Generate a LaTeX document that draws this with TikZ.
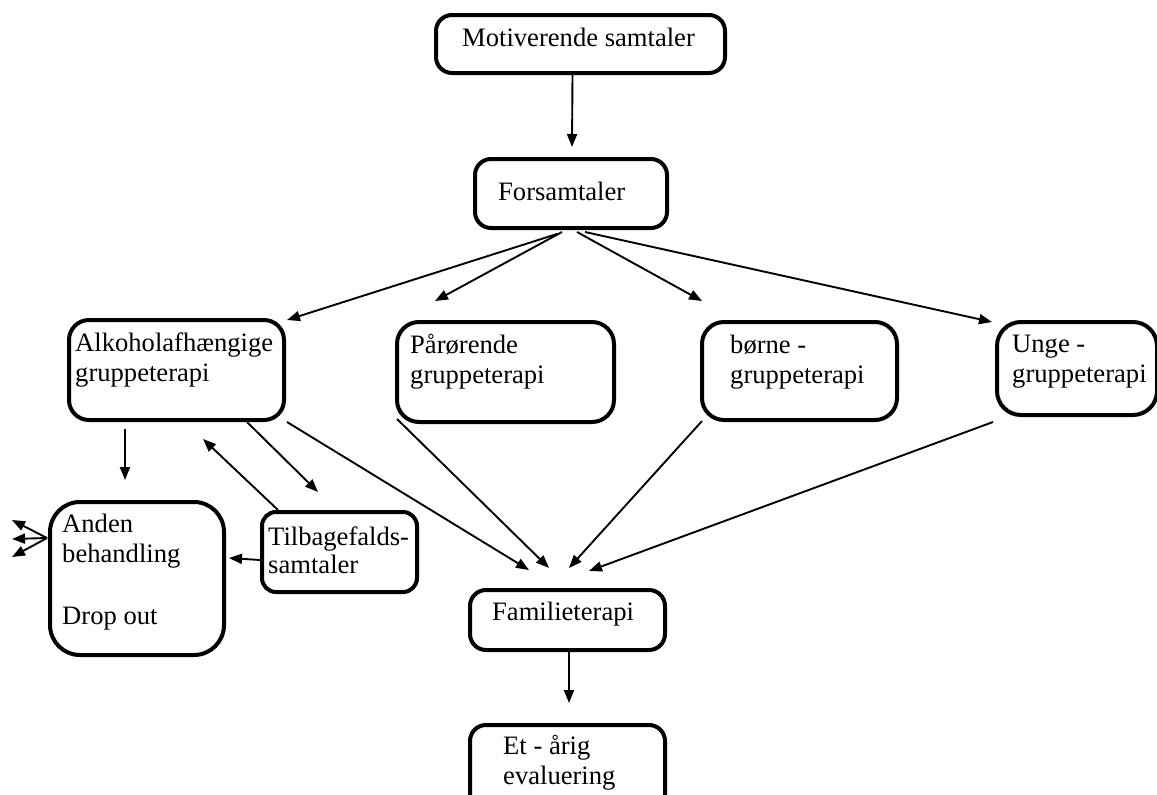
\documentclass[tikz,border=0pt]{standalone}
\usepackage{fontspec}
\setmainfont{Liberation Serif}
\usetikzlibrary{arrows.meta,calc}
\begin{document}
\begin{tikzpicture}[x=1pt,y=-1pt,
  box/.style={draw, line width=4pt, rounded corners=#1, anchor=north west, inner sep=0pt, minimum width=0pt, minimum height=0pt},
  box/.default=16pt,
  lbl/.style={anchor=north west, inner sep=0pt, align=left, font=\fontsize{26.6}{30}\selectfont},
  arr/.style={line width=1.9pt, -{Triangle[length=13pt,width=10pt]}}]
\useasboundingbox (0,0) rectangle (1157,795);
\clip (0,0) rectangle (1157,795);
% boxes
\node[box, minimum width=289pt, minimum height=58pt] (mot) at (434,13) {};
\node[box, minimum width=192pt, minimum height=69pt] (fors) at (473,157) {};
\node[box=20pt, minimum width=215pt, minimum height=100pt] (alk) at (67,318) {};
\node[box=22pt, minimum width=217pt, minimum height=100pt] (par) at (395,320) {};
\node[box=22pt, minimum width=195pt, minimum height=98pt] (bor) at (700,320) {};
\node[box=24pt, minimum width=160pt, minimum height=93pt] (unge) at (995,320) {};
\node[box=30pt, minimum width=174pt, minimum height=153pt] (anden) at (48,500) {};
\node[box=14pt, minimum width=155pt, minimum height=80pt] (tilb) at (260,510) {};
\node[box, minimum width=195pt, minimum height=60pt] (fam) at (468,588) {};
\node[box, minimum width=195pt, minimum height=90pt] (et) at (468,723) {};
% labels
\node[lbl] (tmot) at (462,28) {Motiverende samtaler};
\node[lbl] (tfors) at (498,182) {Forsamtaler};
\node[lbl] (talk) at (75,333) {Alkoholafhængige\\gruppeterapi};
\node[lbl] (tpar) at (410,334) {Pårørende\\gruppeterapi};
\node[lbl] (tbor) at (730,335) {børne -\\gruppeterapi};
\node[lbl] (tunge) at (1012,335) {Unge -\\gruppeterapi};
\node[lbl] (tanden) at (62,514) {Anden\\behandling\\[32pt]Drop out};
\node[lbl] (ttilb) at (268,527) {Tilbagefalds-\\[-2pt]samtaler};
\node[lbl] (tfam) at (492,602) {Familieterapi};
\node[lbl] (tet) at (503,735) {Et - årig\\evaluering};
% connectors
\draw[arr] ($(mot.south)+(-8,0)$) -- ($(fors.north)+(1,-10)$);
\draw[arr] ($(fors.south)+(-14,4)$) -- ($(alk.north east)+(1,2)$);
\draw[arr] ($(fors.south)+(-9,2)$) -- ($(par.north west)+(40,-19)$);
\draw[arr] ($(fors.south)+(6,2)$) -- ($(bor.north west)+(2,-19)$);
\draw[arr] ($(fors.south)+(14,2)$) -- ($(unge.north west)+(-3,2)$);
\draw[arr] ($(alk.south west)+(58,7)$) -- ($(anden.north west)+(77,-20)$);
\draw[arr] ($(tilb.north west)+(18,0)$) -- ($(alk.south west)+(136,17)$);
\draw[arr] ($(alk.south west)+(180,0)$) -- ($(tilb.north west)+(58,-18)$);
\draw[arr] ($(alk.south east)+(1,0)$) -- ($(fam.north)+(-38.5,-18)$);
\draw[arr] ($(par.south west)+(2,-5)$) -- ($(fam.north)+(-18.5,-20)$);
\draw[arr] ($(bor.south west)+(2,-1)$) -- ($(fam.north)+(1.5,-20)$);
\draw[arr] ($(unge.south west)+(-2,5)$) -- ($(fam.north)+(21.5,-17)$);
\draw[arr] ($(tilb.west)+(0,8)$) -- ($(anden.north east)+(3,58)$);
\coordinate (o1) at (12,520);
\coordinate (o2) at (12,539);
\coordinate (o3) at (12,557);
\draw[arr] ($(anden.north west)+(-1,38)$) -- (o1);
\draw[arr] ($(anden.north west)+(-1,38)$) -- (o2);
\draw[arr] ($(anden.north west)+(-1,38)$) -- (o3);
\draw[arr] ($(fam.south)+(1.5,0)$) -- ($(et.north)+(1.5,-20)$);
\end{tikzpicture}
\end{document}
